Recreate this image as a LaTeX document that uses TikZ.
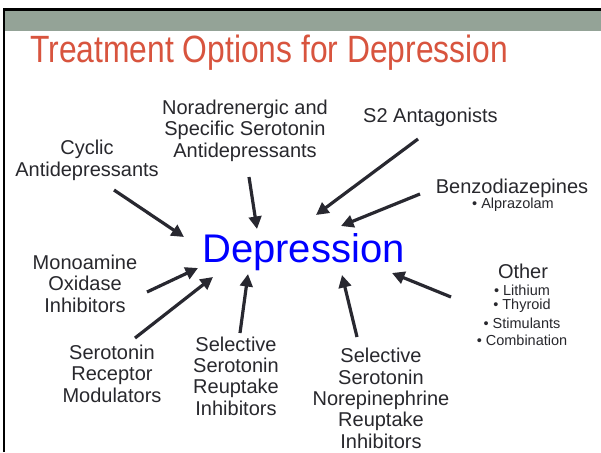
\documentclass[tikz,border=0pt]{standalone}
\usepackage{fontspec}
\setmainfont{Liberation Sans}
\usetikzlibrary{arrows.meta}
\definecolor{bandgray}{RGB}{148,163,151}
\definecolor{titlered}{RGB}{216,84,62}
\definecolor{labelgray}{RGB}{40,40,45}
\definecolor{arrowgray}{RGB}{40,40,48}
\definecolor{deepblue}{RGB}{0,0,255}
\begin{document}
\begin{tikzpicture}[x=1pt,y=-1pt,
  % multi-line labels are placed by the baseline of their last line
  lbl/.style={align=center, inner sep=0pt, anchor=base, text=labelgray,
    font=\fontsize{20}{21.3}\selectfont},
  sublbl/.style={align=center, inner sep=0pt, anchor=base, text=labelgray,
    font=\fontsize{14.5}{15}\selectfont},
  feed/.style={draw=arrowgray, line width=3.2pt,
    -{Triangle[length=12.5pt,width=12.5pt]}}]
\useasboundingbox (0,0) rectangle (601,452);
\fill[white] (0,0) rectangle (601,452);
% slide header band and frame
\fill[bandgray] (5,10) rectangle (601,31);
\draw[line width=2.4pt] (4.2,452) -- (4.2,9.5) -- (601,9.5);

\node[anchor=base west, inner sep=0pt, text=titlered,
  font=\fontsize{38}{38}\selectfont] (title) at (30,63)
  {\scalebox{0.837}[1]{Treatment Options for Depression}};

\node[anchor=base west, inner sep=0pt, text=deepblue,
  font=\fontsize{40}{40}\selectfont] (dep) at (202,262) {Depression};

% treatment classes
\node[lbl] (cyc) at (87,176) {Cyclic\\Antidepressants};
\node[lbl] (nassa) at (245,157) {Noradrenergic and\\Specific Serotonin\\Antidepressants};
\node[lbl, anchor=base west] (s2) at (363,122) {S2 Antagonists};
\node[lbl] (benzo) at (512,193) {Benzodiazepines};
\node[sublbl] (alpra) at (513,208) {• Alprazolam};
\node[lbl] (other) at (523,278) {Other};
\node[sublbl] (otherlist) at (522,345) {• Lithium\\[-1pt]• Thyroid\\[4pt]• Stimulants\\[2pt]• Combination};
\node[lbl] (maoi) at (85,312) {Monoamine\\Oxidase\\Inhibitors};
\node[lbl] (srm) at (112,402) {Serotonin\\Receptor\\Modulators};
\node[lbl] (ssri) at (236,415) {Selective\\Serotonin\\Reuptake\\Inhibitors};
\node[lbl] (snri) at (381,448) {Selective\\Serotonin\\Norepinephrine\\Reuptake\\Inhibitors};

% arrow end points
\coordinate (cycA) at (114,190);  \coordinate (cycB) at (184,237);
\coordinate (naA) at (249,177);   \coordinate (naB) at (257,229);
\coordinate (s2A) at (418,139);   \coordinate (s2B) at (316,215);
\coordinate (bzA) at (420,194);   \coordinate (bzB) at (341,226);
\coordinate (maA) at (147,292);   \coordinate (maB) at (198,268);
\coordinate (srA) at (135,338);   \coordinate (srB) at (213,277);
\coordinate (ssA) at (240,333);   \coordinate (ssB) at (248,274);
\coordinate (snA) at (357,337);   \coordinate (snB) at (342,275);
\coordinate (otA) at (451,297);   \coordinate (otB) at (392,273);

\foreach \s/\t in {cycA/cycB, naA/naB, s2A/s2B, bzA/bzB, maA/maB,
                   srA/srB, ssA/ssB, snA/snB, otA/otB}
  \draw[feed] (\s) -- (\t);
\end{tikzpicture}
\end{document}
